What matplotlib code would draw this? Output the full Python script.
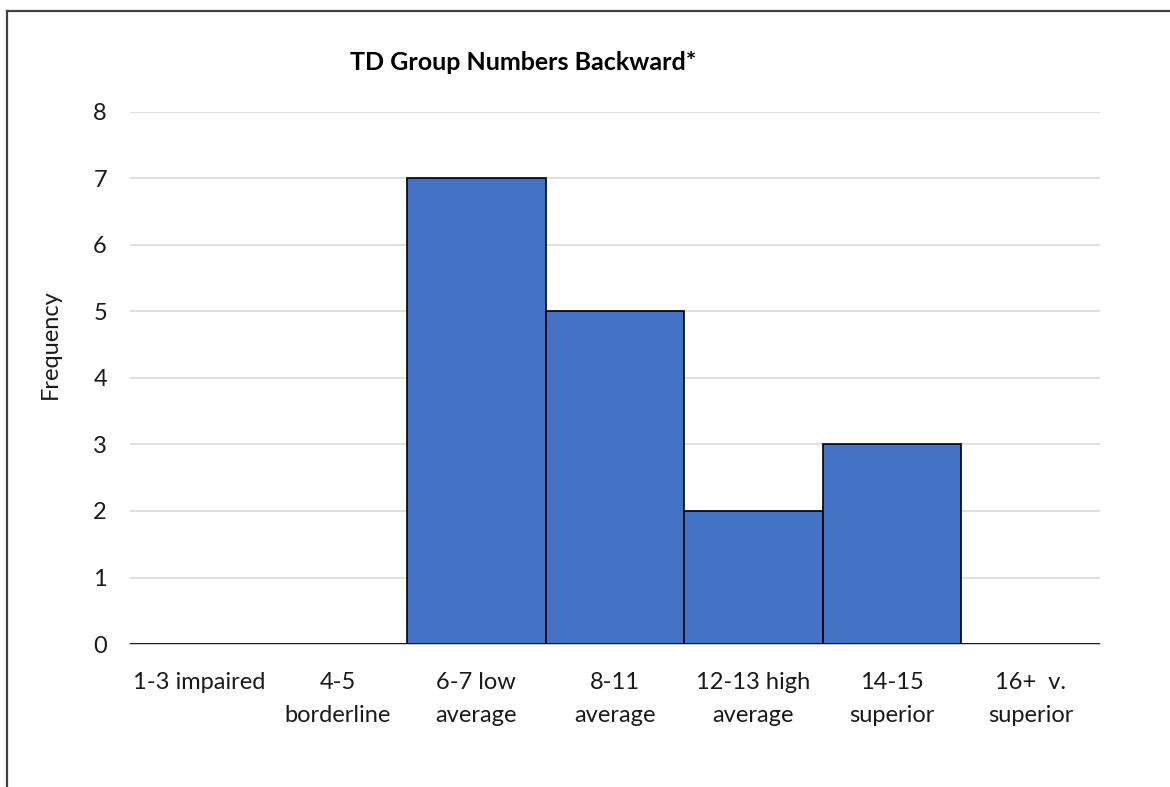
import numpy as np
import matplotlib.pyplot as plt
from matplotlib.lines import Line2D

# Datos del histograma
categorias = ["1-3 impaired", "4-5\nborderline", "6-7 low\naverage", "8-11\naverage",
              "12-13 high\naverage", "14-15\nsuperior", "16+  v.\nsuperior"]
frecuencias = [0, 0, 7, 5, 2, 3, 0]
ticks_y = [0, 1, 2, 3, 4, 5, 6, 7, 8]

plt.rcParams['font.family'] = ['Lato', 'DejaVu Sans']

fig = plt.figure(figsize=(11.7, 7.87), dpi=100)
ax = fig.add_axes([0.111, 0.1817, 0.829, 0.676])

x = np.arange(len(categorias))
ax.bar(x, frecuencias, width=1.0, color="#4472C4", edgecolor="black", linewidth=1.2, zorder=3)

ax.set_xlim(-0.5, len(categorias) - 0.5)
ax.set_ylim(0, 8)
ax.set_yticks(ticks_y)
ax.set_xticks(x)
ax.set_xticklabels(categorias, fontsize=17, color="#1a1a1a", linespacing=1.7, va="top")
ax.tick_params(axis="y", labelsize=17, colors="#1a1a1a", length=0, pad=16.5)
ax.tick_params(axis="x", length=0, pad=20)
ax.grid(axis="y", color="#D9D9D9", linewidth=1.2, zorder=0)

for lado in ["top", "right", "left"]:
    ax.spines[lado].set_visible(False)
ax.spines["bottom"].set_color("#BFBFBF")
ax.spines["bottom"].set_linewidth(1.2)

# Etiqueta del eje y y título
fig.text(50 / 1170, 1 - 344 / 787, "Frequency", fontsize=17, rotation=90,
         ha="center", va="center", color="#1a1a1a")
fig.text(523.5 / 1170, 1 - 62.5 / 787, "TD Group Numbers Backward*", fontsize=18,
         fontweight="bold", ha="center", va="center", color="black")

# Borde del gráfico (solo se ven el lado superior e izquierdo)
bx, by = 7 / 1170, 1 - 11 / 787
fig.lines.append(Line2D([bx, 1.0], [by, by], transform=fig.transFigure,
                        color="#404040", linewidth=1.6))
fig.lines.append(Line2D([bx, bx], [0.0, by], transform=fig.transFigure,
                        color="#404040", linewidth=1.6))

fig.savefig("out.png", dpi=100)
